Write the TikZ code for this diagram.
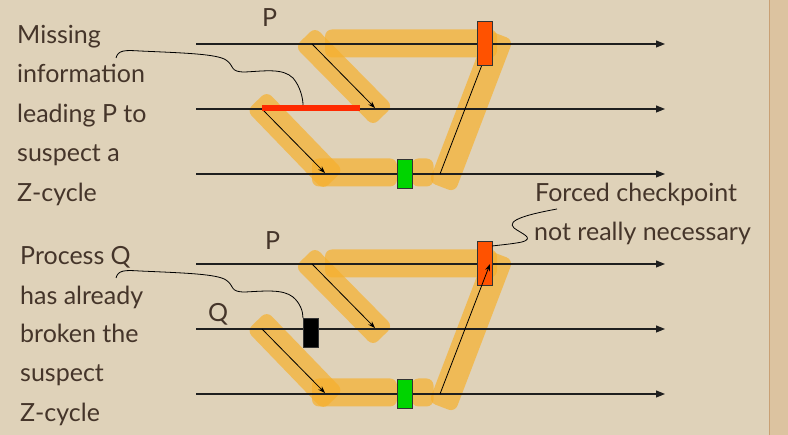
\documentclass[tikz,border=0pt]{standalone}
\usepackage{fontspec}
\setmainfont{Lato}
\usetikzlibrary{arrows.meta}
\definecolor{paper}{HTML}{DFD2B9}
\definecolor{ink}{HTML}{45352A}
\definecolor{hilite}{HTML}{F7B02C}
\definecolor{ckred}{HTML}{FF5200}
\definecolor{barred}{HTML}{FF2A00}
\definecolor{ckgreen}{HTML}{00D400}
\definecolor{rim}{HTML}{C9A074}
\definecolor{rimfill}{HTML}{DCC3A0}

\begin{document}
\begin{tikzpicture}[x=1pt,y=-1pt,
  timeline/.style={draw=black!88, line width=1.1pt, -{Triangle[length=9pt,width=7pt]}},
  msg/.style={draw=black, line width=0.8pt, -{Stealth[length=7pt,width=5pt]}},
  plainmsg/.style={draw=black, line width=0.8pt},
  band/.style={fill=hilite, fill opacity=0.7, rounded corners=7pt,
    minimum height=28pt, inner sep=0pt, draw=none},
  ckbox/.style={draw=black!80, line width=0.7pt, minimum width=15pt, inner sep=0pt},
  note/.style={text=ink, font=\fontsize{25}{40}\selectfont, anchor=base west, inner sep=0pt},
  pname/.style={text=ink, font=\fontsize{25}{30}\selectfont, anchor=base west, inner sep=0pt},
  leader/.style={draw=black, line width=0.8pt}]

% paper and its torn right rim
\fill[paper] (0,0) rectangle (788,435);
\useasboundingbox (0,0) rectangle (788,435);
\fill[rimfill] (770,0) rectangle (788,435);
\draw[rim, line width=1.8pt] (769.5,0) -- (769.5,435);

% the two space-time diagrams share the same layout
\foreach \oy/\pf in {0/a,220/b}{
  \begin{scope}[shift={(0,\oy)}]
    % highlighted Z-path
    \node[band, minimum width=172pt] (\pf-hltop) at (411,43.5) {};
    \node[band, minimum width=111pt, rotate=-45.4] (\pf-hlup) at (344,76.5) {};
    \node[band, minimum width=110pt, rotate=-46] (\pf-hllow) at (295,140.5) {};
    \node[band, minimum width=85pt] (\pf-hlbot) at (354.5,172.5) {};
    \node[band, minimum width=22pt] (\pf-hlbit) at (422.5,172.5) {};
    \node[band, minimum width=163pt, rotate=69.1] (\pf-hlright) at (471,111) {};

    % process lines
    \coordinate (\pf-p0) at (196,44);  \coordinate (\pf-p1) at (665,44);
    \coordinate (\pf-q0) at (196,109); \coordinate (\pf-q1) at (665,109);
    \coordinate (\pf-r0) at (196,174); \coordinate (\pf-r1) at (665,174);
    \draw[timeline] (\pf-p0) -- (\pf-p1);
    \draw[timeline] (\pf-q0) -- (\pf-q1);
    \draw[timeline] (\pf-r0) -- (\pf-r1);

    % messages
    \coordinate (\pf-m1s) at (312,44);  \coordinate (\pf-m1e) at (375,108);
    \coordinate (\pf-m2s) at (262,109); \coordinate (\pf-m2e) at (325,173);
    \coordinate (\pf-m3s) at (440,174); \coordinate (\pf-m3e) at (490,44);
    \draw[msg] (\pf-m1s) -- (\pf-m1e);
    \draw[msg] (\pf-m2s) -- (\pf-m2e);

    % checkpoint on the lowest process
    \node[ckbox, fill=ckgreen, minimum height=29pt] (\pf-green) at (404.5,173.5) {};
  \end{scope}
}

% upper diagram: message into the forced checkpoint, box on top
\draw[plainmsg] (a-m3s) -- (a-m3e);
\node[ckbox, fill=ckred, minimum height=44pt] (a-forced) at (484.5,43) {};
\node[pname] (a-plabel) at (262,27) {P};
\draw[barred, line width=6pt] (262,108) coordinate (bar0) -- (360,108) coordinate (bar1);
\node[inner sep=0pt, minimum width=98pt, minimum height=6pt] (redbar) at (311,108) {};

% lower diagram: forced checkpoint under the arrival of the message
\node[ckbox, fill=ckred, minimum height=44pt] (b-forced) at (484.5,263) {};
\draw[msg] (b-m3s) -- (b-m3e);
\node[pname] (b-plabel) at (265,250) {P};
\node[pname] (b-qlabel) at (208,322) {Q};
\node[ckbox, fill=black, minimum height=29pt] (qckpt) at (310.5,332.5) {};

% notes
\node[note] (n1a) at (17,44)  {Missing};
\node[note] (n1b) at (17,83)  {information};
\node[note] (n1c) at (17,123) {leading P to};
\node[note] (n1d) at (17,162) {suspect a};
\node[note] (n1e) at (17,202) {Z-cycle};

\node[note] (n2a) at (20,265) {Process Q};
\node[note] (n2b) at (20,305) {has already};
\node[note] (n2c) at (20,343) {broken the};
\node[note] (n2d) at (20,382) {suspect};
\node[note] (n2e) at (20,422) {Z-cycle};

\node[note] (n3a) at (535,202) {Forced checkpoint};
\node[note] (n3b) at (534,241) {not really necessary};

% leader lines from the notes
\coordinate (l1s) at (116,58);
\coordinate (l1e) at (303,105);
\draw[leader] (l1s) .. controls (118,50) and (125,50) .. (140,51)
  .. controls (185,53) and (217,54) .. (226,60)
  .. controls (235,66) and (229,72) .. (245,72)
  .. controls (265,71) and (283,68) .. (293,78)
  .. controls (300,86) and (303,98) .. (l1e);

\coordinate (l2s) at (116,278);
\coordinate (l2e) at (303,318);
\draw[leader] (l2s) .. controls (118,270) and (125,270) .. (140,271)
  .. controls (185,273) and (217,274) .. (226,280)
  .. controls (235,286) and (229,292) .. (245,292)
  .. controls (265,291) and (283,289) .. (293,297)
  .. controls (300,303) and (303,311) .. (l2e);

\coordinate (l3s) at (557,209);
\coordinate (l3e) at (492,246);
\draw[leader] (l3s) .. controls (530,214) and (505,220) .. (514,228)
  .. controls (522,234) and (535,238) .. (522,242)
  .. controls (512,244) and (500,245) .. (l3e);
\end{tikzpicture}
\end{document}
